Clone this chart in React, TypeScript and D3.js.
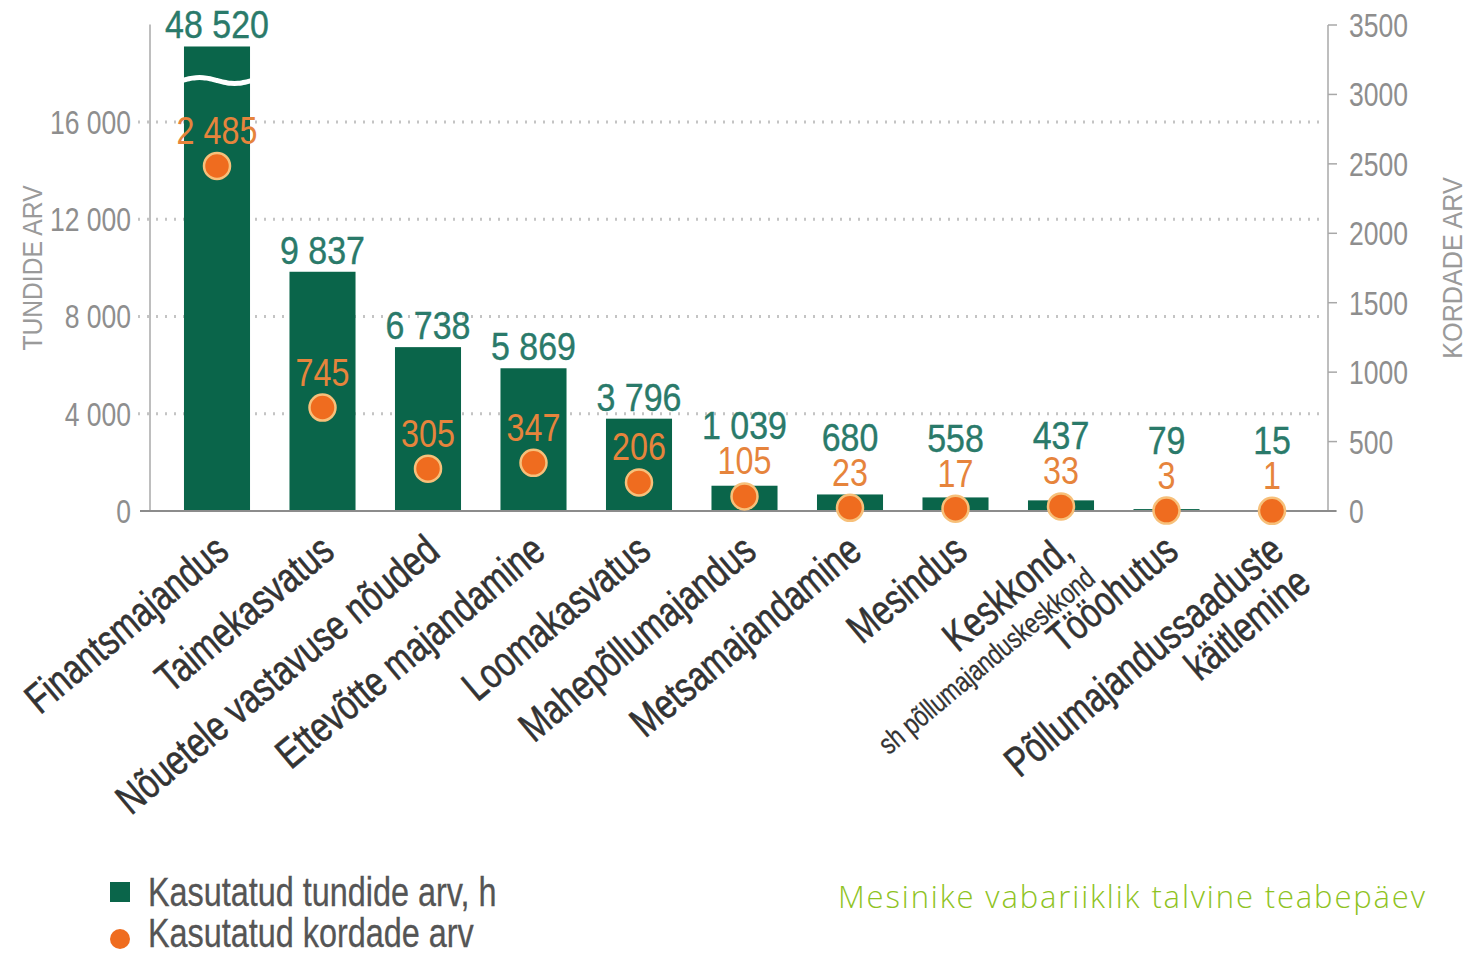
import * as d3 from "d3";
import React, { useEffect, useRef } from "react";

const categories = [
  "Finantsmajandus",
  "Taimekasvatus",
  "Nõuetele vastavuse nõuded",
  "Ettevõtte majandamine",
  "Loomakasvatus",
  "Mahepõllumajandus",
  "Metsamajandamine",
  "Mesindus",
  "Keskkond,",
  "Tööohutus",
  "Põllumajandussaaduste",
];
const subLabels = ["", "", "", "", "", "", "", "", "sh põllumajanduskeskkond", "", "käitlemine"];
const hours = [48520, 9837, 6738, 5869, 3796, 1039, 680, 558, 437, 79, 15];
const times = [2485, 745, 305, 347, 206, 105, 23, 17, 33, 3, 1];
const leftTicks = [0, 4000, 8000, 12000, 16000];
const rightTicks = [0, 500, 1000, 1500, 2000, 2500, 3000, 3500];
const legendLabels = ["Kasutatud tundide arv, h", "Kasutatud kordade arv"];
const footer = "Mesinike vabariiklik talvine teabepäev";

const W = 1468;
const H = 954;
const GREEN = "#0a654a";
const TEAL_TEXT = "#2a7a6a";
const ORANGE = "#ef6c1f";
const ORANGE_TEXT = "#e6843c";
const GRAY = "#8e8e8e";
const FONT = "'Liberation Sans', Arial, sans-serif";

// the first bar is cut with a wave, it is drawn only up to this value
const barCap = 19100;
const breakAt = 17700;

type Sel = d3.Selection<any, unknown, null, undefined>;

// condensed text: translate, optional rotation, then horizontal squeeze
// (the source uses a condensed face that is not installed)
function narrowText(
  parent: Sel,
  x: number,
  y: number,
  str: string,
  size: number,
  fill: string,
  opts: { anchor?: string; rotate?: number; squeeze?: number; heavy?: number } = {}
) {
  const { anchor = "start", rotate = 0, squeeze = 0.78, heavy = 0 } = opts;
  parent
    .append("g")
    .attr("transform", `translate(${x},${y}) rotate(${rotate}) scale(${squeeze},1)`)
    .append("text")
    .attr("text-anchor", anchor)
    .attr("font-family", FONT)
    .attr("font-size", size)
    .attr("fill", fill)
    .attr("stroke", heavy ? fill : "none")
    .attr("stroke-width", heavy)
    .text(str);
}

const App: React.FC = () => {
  const ref = useRef<SVGSVGElement | null>(null);

  useEffect(() => {
    if (!ref.current) return;
    const svg = d3.select(ref.current);
    svg.selectAll("*").remove();

    const fmt = d3.formatLocale({ decimal: ",", thousands: "\u00a0", grouping: [3], currency: ["", ""] }).format(",d");

    const x = d3
      .scaleBand<string>()
      .domain(categories)
      .range([164.25, 1324.75])
      .paddingInner(0.374)
      .paddingOuter(0.187);
    const yL = d3.scaleLinear().domain([0, 20000]).range([511, 24.6]);
    const yR = d3.scaleLinear().domain([0, 3500]).range([511, 25]);
    const cx = (i: number) => (x(categories[i]) as number) + x.bandwidth() / 2;

    // gridlines
    svg
      .append("g")
      .selectAll("line")
      .data(leftTicks.filter((t) => t > 0))
      .join("line")
      .attr("x1", 138)
      .attr("x2", 1326)
      .attr("y1", (d) => yL(d))
      .attr("y2", (d) => yL(d))
      .attr("stroke", "#c4c4c4")
      .attr("stroke-width", 3)
      .attr("stroke-dasharray", "2,7");

    // axis lines
    svg.append("line").attr("x1", 150).attr("x2", 150).attr("y1", yL(20000)).attr("y2", yL(0)).attr("stroke", "#a8a8a8").attr("stroke-width", 1.5);
    svg.append("line").attr("x1", 1328).attr("x2", 1328).attr("y1", yR(3500)).attr("y2", yR(0)).attr("stroke", "#a8a8a8").attr("stroke-width", 1.5);
    svg
      .append("g")
      .selectAll("line")
      .data(rightTicks)
      .join("line")
      .attr("x1", 1328)
      .attr("x2", 1337)
      .attr("y1", (d) => yR(d))
      .attr("y2", (d) => yR(d))
      .attr("stroke", "#a8a8a8")
      .attr("stroke-width", 1.5);

    // bars
    svg
      .append("g")
      .selectAll("rect")
      .data(hours)
      .join("rect")
      .attr("x", (_, i) => x(categories[i]) as number)
      .attr("width", x.bandwidth())
      .attr("y", (d) => yL(Math.min(d, barCap)))
      .attr("height", (d) => yL(0) - yL(Math.min(d, barCap)))
      .attr("fill", GREEN);

    // break wave on capped bars
    hours.forEach((v, i) => {
      if (v <= barCap) return;
      const x0 = (x(categories[i]) as number) - 2;
      const w = x.bandwidth() + 4;
      const pts: [number, number][] = d3
        .range(0, 21)
        .map((k) => [x0 + (w * k) / 20, yL(breakAt) + 3 * Math.sin((k / 20) * Math.PI * 2 + Math.PI)]);
      svg
        .append("path")
        .attr("d", d3.line().curve(d3.curveBasis)(pts))
        .attr("fill", "none")
        .attr("stroke", "#ffffff")
        .attr("stroke-width", 5);
    });

    // x baseline
    svg.append("line").attr("x1", 140).attr("x2", 1336).attr("y1", yL(0)).attr("y2", yL(0)).attr("stroke", "#8c8c8c").attr("stroke-width", 2);

    // dots
    svg
      .append("g")
      .selectAll("circle")
      .data(times)
      .join("circle")
      .attr("cx", (_, i) => cx(i))
      .attr("cy", (d) => yR(d))
      .attr("r", 13)
      .attr("fill", ORANGE)
      .attr("stroke", "#f7c07a")
      .attr("stroke-width", 2.5);

    // all text on top
    const txt = svg.append("g") as unknown as Sel;

    leftTicks.forEach((t) => narrowText(txt, 131, yL(t) + 12, fmt(t), 34, GRAY, { anchor: "end" }));
    narrowText(txt, 42, 268, "TUNDIDE ARV", 28, "#9a9a9a", { anchor: "middle", rotate: -90, squeeze: 0.88 });
    rightTicks.forEach((t) => narrowText(txt, 1349, yR(t) + 12, String(t), 34, GRAY));
    narrowText(txt, 1462, 268, "KORDADE ARV", 28, "#9a9a9a", { anchor: "middle", rotate: -90, squeeze: 0.9 });

    // value labels
    times.forEach((d, i) => narrowText(txt, cx(i), yR(d) - 22, fmt(d), 38, ORANGE_TEXT, { anchor: "middle", squeeze: 0.85 }));
    hours.forEach((d, i) => {
      const yy = Math.min(yL(Math.min(d, barCap)) - 8, yR(times[i]) - 57);
      narrowText(txt, cx(i), yy, fmt(d), 39, TEAL_TEXT, { anchor: "middle", squeeze: 0.87, heavy: 0.4 });
    });

    // category labels
    categories.forEach((c, i) => {
      const g = txt.append("g").attr("transform", `translate(${cx(i) + 14},${yL(0) + 44}) rotate(-40)`) as unknown as Sel;
      narrowText(g, 0, 0, c, 42, "#333333", { anchor: "end", heavy: 0.6 });
      if (subLabels[i]) {
        const small = i === 8;
        narrowText(g, small ? 0 : 0, small ? 34 : 42, subLabels[i], small ? 29 : 42, "#333333", {
          anchor: "end",
          heavy: small ? 0.3 : 0.6,
        });
      }
    });

    // legend
    svg.append("rect").attr("x", 110).attr("y", 882).attr("width", 20).attr("height", 20).attr("fill", GREEN);
    svg.append("circle").attr("cx", 120).attr("cy", 939).attr("r", 10).attr("fill", ORANGE);
    legendLabels.forEach((l, i) => narrowText(txt, 148, 906 + i * 41, l, 40, "#555555", { squeeze: 0.81, heavy: 0.3 }));

    svg
      .append("text")
      .attr("x", 838)
      .attr("y", 908)
      .attr("font-family", "'Open Sans', 'DejaVu Sans', sans-serif")
      .attr("font-weight", 300)
      .attr("font-size", 31)
      .attr("textLength", 587)
      .attr("fill", "#8fc31f")
      .text(footer);
  }, []);

  return <svg ref={ref} width={W} height={H} style={{ position: "absolute", left: 0, top: 0, background: "#ffffff" }}></svg>;
};

export default App;
